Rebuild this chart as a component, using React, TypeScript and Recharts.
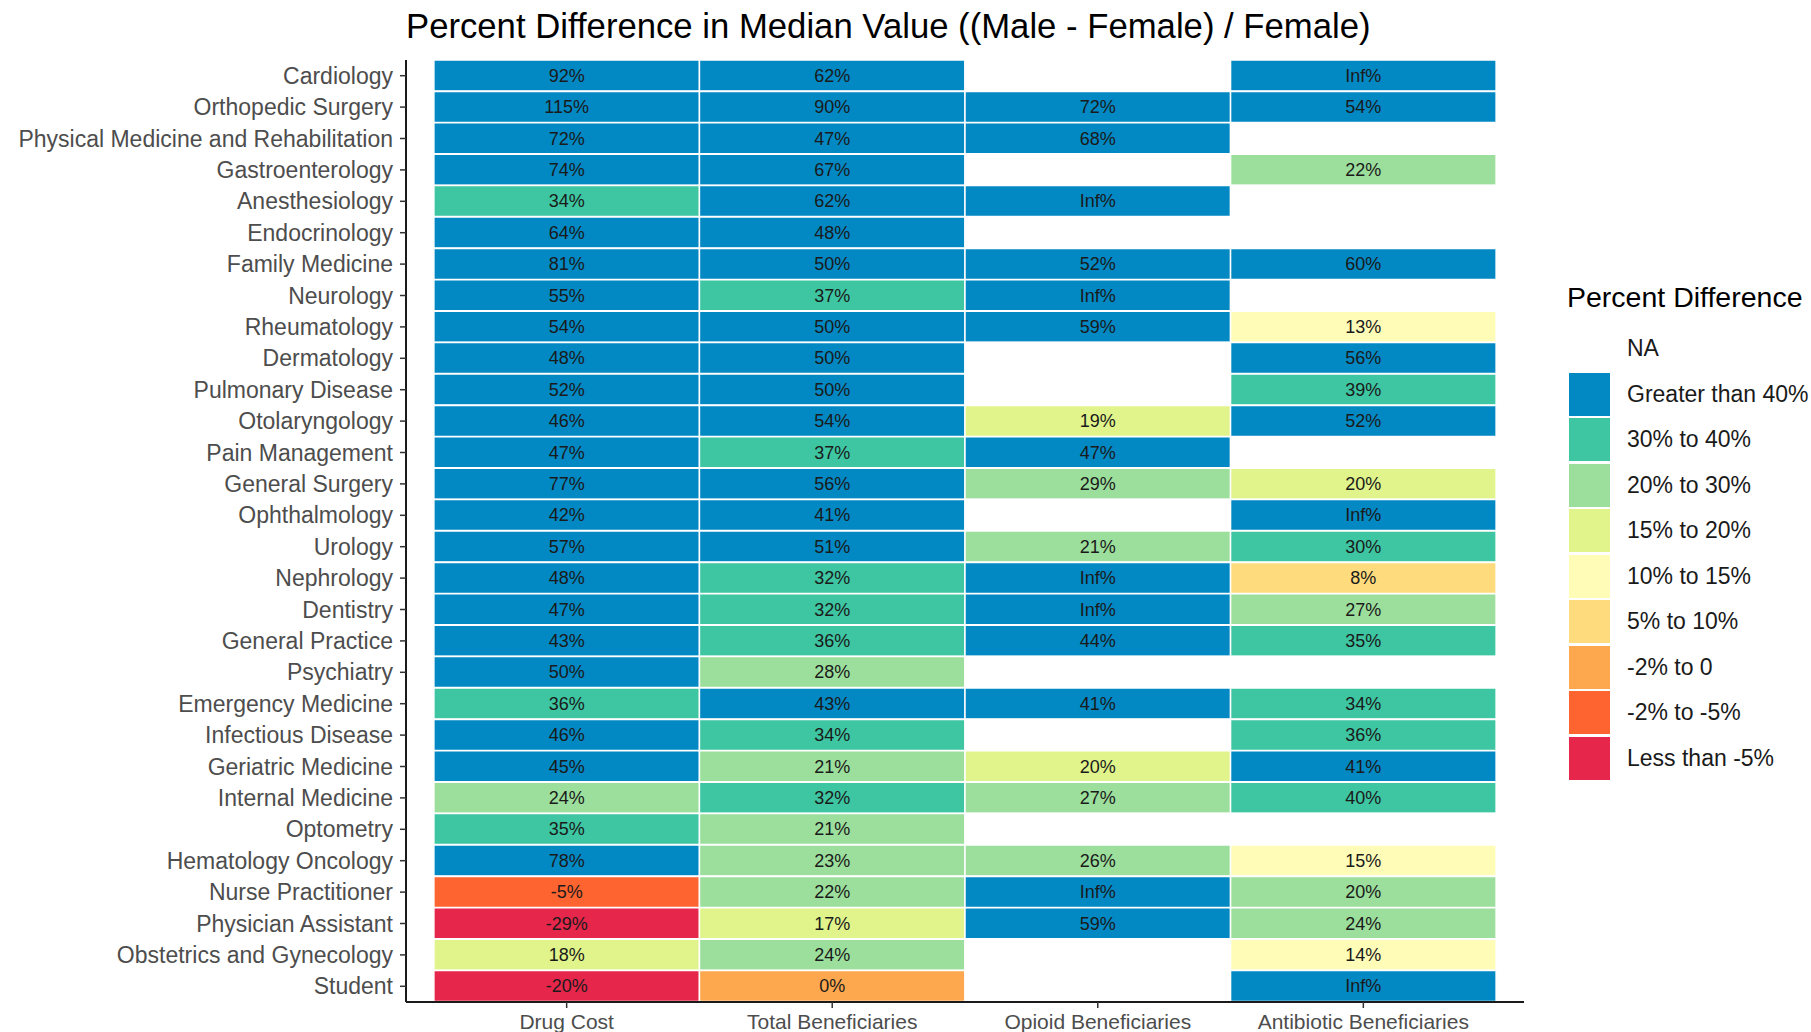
import { Bar, BarChart, Cell, LabelList, XAxis, YAxis } from "recharts";

const specialties = [
  "Cardiology",
  "Orthopedic Surgery",
  "Physical Medicine and Rehabilitation",
  "Gastroenterology",
  "Anesthesiology",
  "Endocrinology",
  "Family Medicine",
  "Neurology",
  "Rheumatology",
  "Dermatology",
  "Pulmonary Disease",
  "Otolaryngology",
  "Pain Management",
  "General Surgery",
  "Ophthalmology",
  "Urology",
  "Nephrology",
  "Dentistry",
  "General Practice",
  "Psychiatry",
  "Emergency Medicine",
  "Infectious Disease",
  "Geriatric Medicine",
  "Internal Medicine",
  "Optometry",
  "Hematology Oncology",
  "Nurse Practitioner",
  "Physician Assistant",
  "Obstetrics and Gynecology",
  "Student",
];

const measures = [
  "Drug Cost",
  "Total Beneficiaries",
  "Opioid Beneficiaries",
  "Antibiotic Beneficiaries",
];

const Inf = Infinity;

// percent difference, null = NA
const drugCost = [
  92, 115, 72, 74, 34, 64, 81, 55, 54, 48, 52, 46, 47, 77, 42, 57, 48, 47, 43,
  50, 36, 46, 45, 24, 35, 78, -4.6, -29, 18, -20,
];
const totalBeneficiaries = [
  62, 90, 47, 67, 62, 48, 50, 37, 50, 50, 50, 54, 37, 56, 41, 51, 32, 32, 36,
  28, 43, 34, 21, 32, 21, 23, 22, 17, 24, -0.3,
];
const opioidBeneficiaries = [
  null, 72, 68, null, Inf, null, 52, Inf, 59, null, null, 19, 47, 29, null, 21,
  Inf, Inf, 44, null, 41, null, 19.6, 27, null, 26, Inf, 59, null, null,
];
const antibioticBeneficiaries = [
  Inf, 54, null, 22, null, null, 60, null, 13, 56, 39, 52, null, 19.6, Inf,
  30.2, 8, 27, 35, null, 34, 36, 41, 39.8, null, 14.6, 20.4, 24, 14, Inf,
];

const binLabels = [
  "NA",
  "Greater than 40%",
  "30% to 40%",
  "20% to 30%",
  "15% to 20%",
  "10% to 15%",
  "5% to 10%",
  "-2% to 0",
  "-2% to -5%",
  "Less than -5%",
];
const binColors = [
  "#ffffff",
  "#0288c3",
  "#3dc6a1",
  "#9cdf9c",
  "#e0f48b",
  "#fffcb8",
  "#fedc7e",
  "#fda84f",
  "#fe6430",
  "#e6264a",
];

const columns = [drugCost, totalBeneficiaries, opioidBeneficiaries, antibioticBeneficiaries];

function binOf(v: number | null) {
  if (v === null) return 0;
  if (v > 40) return 1;
  if (v >= 30) return 2;
  if (v >= 20) return 3;
  if (v >= 15) return 4;
  if (v >= 10) return 5;
  if (v >= 5) return 6;
  if (v >= -2) return 7;
  if (v >= -5) return 8;
  return 9;
}

function labelOf(v: number | null) {
  if (v === null) return "";
  if (v === Infinity) return "Inf%";
  return `${Math.round(v) || 0}%`;
}

const rows = specialties.map((name, i) => {
  const row: Record<string, string | number> = { name };
  columns.forEach((col, j) => {
    row[`c${j}`] = 1;
    row[`t${j}`] = labelOf(col[i]);
    row[`f${j}`] = binColors[binOf(col[i])];
  });
  return row;
});

const FONT = "'Liberation Sans', Arial, Helvetica, sans-serif";

export default function App() {
  return (
    <div
      style={{
        position: "absolute",
        left: 0,
        top: 0,
        width: 1811,
        height: 1032,
        background: "#fff",
        fontFamily: FONT,
        overflow: "hidden",
      }}
    >
      <div
        style={{
          position: "absolute",
          left: 406,
          top: 7,
          fontSize: 34.7,
          color: "#000",
          whiteSpace: "nowrap",
        }}
      >
        Percent Difference in Median Value ((Male - Female) / Female)
      </div>
      <BarChart
        width={1811}
        height={1032}
        data={rows}
        layout="vertical"
        barCategoryGap={0}
        barGap={0}
        margin={{ top: 60, right: 287, left: 0, bottom: 0 }}
        style={{ fontFamily: FONT }}
      >
        <XAxis
          type="number"
          domain={[-0.105, 4.105]}
          allowDataOverflow
          ticks={[0.5, 1.5, 2.5, 3.5]}
          tickFormatter={(v: number) => measures[Math.floor(v)]}
          height={30}
          tickSize={6}
          tickMargin={6}
          axisLine={{ stroke: "#1a1a1a", strokeWidth: 2 }}
          tickLine={{ stroke: "#333", strokeWidth: 1.5 }}
          tick={{ fontSize: 21, fill: "#4d4d4d" }}
        />
        <YAxis
          type="category"
          dataKey="name"
          width={406}
          interval={0}
          tickSize={6}
          tickMargin={7}
          axisLine={{ stroke: "#1a1a1a", strokeWidth: 2 }}
          tickLine={{ stroke: "#333", strokeWidth: 1.5 }}
          tick={{ fontSize: 23, fill: "#4d4d4d" }}
        />
        {[0, 1, 2, 3].map((j) => (
          <Bar
            key={j}
            dataKey={`c${j}`}
            stackId="cells"
            stroke="#fff"
            strokeWidth={1.5}
            isAnimationActive={false}
          >
            {rows.map((r, i) => (
              <Cell key={i} fill={r[`f${j}`] as string} />
            ))}
            <LabelList
              dataKey={`t${j}`}
              position="center"
              fill="#1a1a1a"
              fontSize={18}
            />
          </Bar>
        ))}
      </BarChart>
      <div style={{ position: "absolute", left: 1567, top: 281 }}>
        <div style={{ fontSize: 28.5, color: "#000", marginBottom: 12 }}>
          Percent Difference
        </div>
        {binLabels.map((lab, k) => (
          <div
            key={lab}
            style={{ display: "flex", alignItems: "center", height: 45.5 }}
          >
            <div
              style={{
                width: 41,
                height: 43,
                marginLeft: 2,
                background: binColors[k],
              }}
            />
            <div style={{ marginLeft: 17, fontSize: 23, color: "#1a1a1a" }}>
              {lab}
            </div>
          </div>
        ))}
      </div>
    </div>
  );
}
